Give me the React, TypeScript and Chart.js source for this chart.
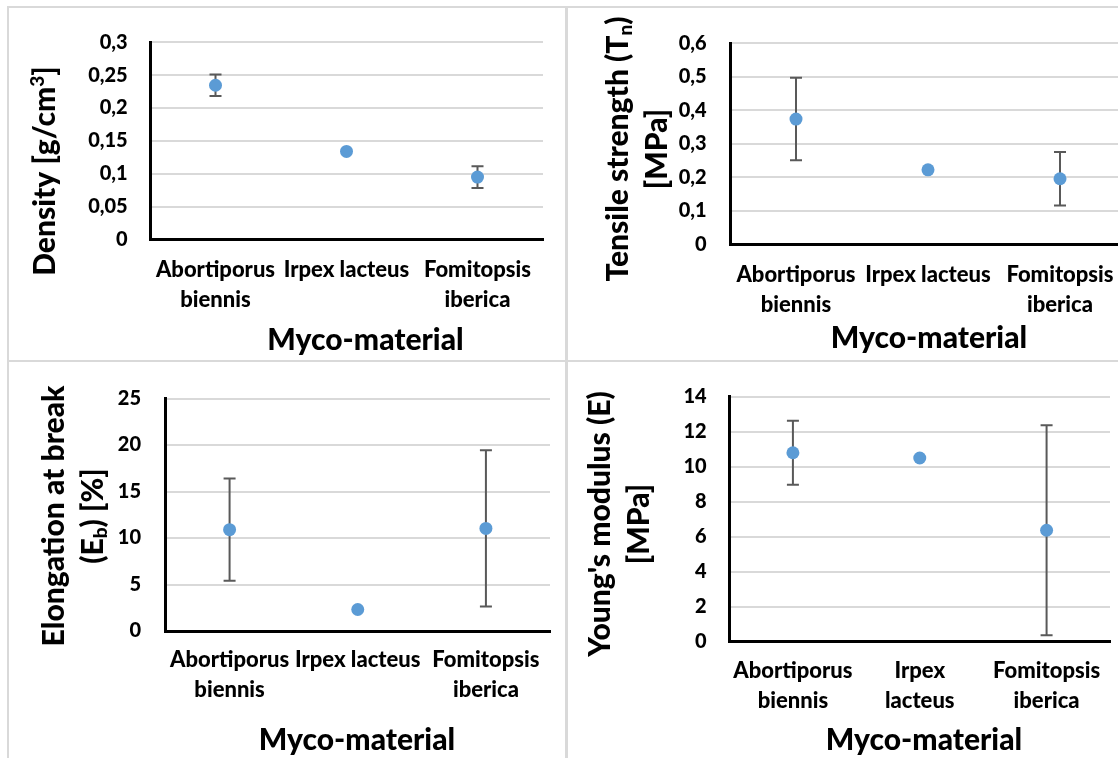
import React, { useEffect, useRef } from "react";
import { Chart, registerables } from "chart.js";

Chart.register(...registerables);

// Fungal species tested
const speciesLabels: (string | string[])[] = [["Abortiporus", "biennis"], "Irpex lacteus", ["Fomitopsis", "iberica"]];
const speciesLabelsWrapped: string[][] = [["Abortiporus", "biennis"], ["Irpex", "lacteus"], ["Fomitopsis", "iberica"]];

// Density [g/cm3]: mean and standard deviation
const densityMean = [0.2347, 0.134, 0.095];
const densitySd = [0.0163, 0, 0.0165];
const densityTicks = ["0", "0,05", "0,1", "0,15", "0,2", "0,25", "0,3"];

// Tensile strength [MPa]
const tensileMean = [0.374, 0.2226, 0.196];
const tensileSd = [0.123, 0, 0.08];
const tensileTicks = ["0", "0,1", "0,2", "0,3", "0,4", "0,5", "0,6"];

// Elongation at break [%]
const elongationMean = [10.9, 2.31, 11.03];
const elongationSd = [5.5, 0, 8.4];
const elongationTicks = ["0", "5", "10", "15", "20", "25"];

// Young's modulus [MPa]
const modulusMean = [10.8, 10.5, 6.37];
const modulusSd = [1.83, 0, 6.0];
const modulusTicks = ["0", "2", "4", "6", "8", "10", "12", "14"];

const FONT = "Lato";
const WEIGHT = "900";
const TEXT = "#000000";
const MARKER = "#5b9bd5";
const ERR = "#595959";
const GRID = "#d9d9d9";

type Seg = { t: string; s?: "sup" | "sub" };

type PanelSpec = {
  labels: (string | string[])[];
  mean: number[];
  sd: number[];
  ticks: string[];
  max: number;
  step: number;
  yTitle: Seg[][];
  canvas: { x: number; y: number; w: number; h: number };
  plot: { l: number; r: number; t: number; b: number };
  yTickRight: number;
  catPad: number;
  xTitle: { cx: number; base: number };
  yTitleLines: { baselines: number[]; cy: number };
  frame: { x: number; y: number; w: number; h: number };
};

const TICK_FS = 20;
const CAT_FS = 22;
const CAT_LH = 30;
const TITLE_FS = 30;

const panels: PanelSpec[] = [
  {
    labels: speciesLabels,
    mean: densityMean,
    sd: densitySd,
    ticks: densityTicks,
    max: 0.3,
    step: 0.05,
    yTitle: [[{ t: "Density [g/cm" }, { t: "3", s: "sup" }, { t: "]" }]],
    canvas: { x: 9, y: 8, w: 556, h: 352 },
    plot: { l: 150, r: 543, t: 39.5, b: 239.5 },
    yTickRight: 127.7,
    catPad: 15,
    xTitle: { cx: 365.5, base: 350 },
    yTitleLines: { baselines: [54.5], cy: 171 },
    frame: { x: 7, y: 6, w: 560, h: 356 },
  },
  {
    labels: speciesLabels,
    mean: tensileMean,
    sd: tensileSd,
    ticks: tensileTicks,
    max: 0.6,
    step: 0.1,
    yTitle: [[{ t: "Tensile strength (T" }, { t: "n", s: "sub" }, { t: ")" }], [{ t: "[MPa]" }]],
    canvas: { x: 568, y: 8, w: 600, h: 352 },
    plot: { l: 730, r: 1126, t: 23, b: 244.5 },
    yTickRight: 706.7,
    catPad: 15,
    xTitle: { cx: 929, base: 348 },
    yTitleLines: { baselines: [628, 667], cy: 149 },
    frame: { x: 566, y: 6, w: 600, h: 356 },
  },
  {
    labels: speciesLabels,
    mean: elongationMean,
    sd: elongationSd,
    ticks: elongationTicks,
    max: 25,
    step: 5,
    yTitle: [[{ t: "Elongation at break" }], [{ t: "(E" }, { t: "b", s: "sub" }, { t: ") [%]" }]],
    canvas: { x: 9, y: 362, w: 556, h: 396 },
    plot: { l: 165.5, r: 550, t: 385.7, b: 631 },
    yTickRight: 141,
    catPad: 13.5,
    xTitle: { cx: 357, base: 750 },
    yTitleLines: { baselines: [64, 103], cy: 516 },
    frame: { x: 7, y: 360, w: 560, h: 500 },
  },
  {
    labels: speciesLabelsWrapped,
    mean: modulusMean,
    sd: modulusSd,
    ticks: modulusTicks,
    max: 14,
    step: 2,
    yTitle: [[{ t: "Young's modulus (E)" }], [{ t: "[MPa]" }]],
    canvas: { x: 568, y: 362, w: 600, h: 396 },
    plot: { l: 729.5, r: 1110, t: 386, b: 641.7 },
    yTickRight: 706.7,
    catPad: 14.5,
    xTitle: { cx: 924, base: 750 },
    yTitleLines: { baselines: [610, 649], cy: 524 },
    frame: { x: 566, y: 360, w: 600, h: 500 },
  },
];

function segFont(seg: Seg, fs: number) {
  const size = seg.s ? Math.round(fs * 0.62) : fs;
  return `${WEIGHT} ${size}px ${FONT}`;
}

function drawRichLine(ctx: CanvasRenderingContext2D, segs: Seg[], fs: number) {
  let total = 0;
  const widths = segs.map((seg) => {
    ctx.font = segFont(seg, fs);
    const w = ctx.measureText(seg.t).width;
    total += w;
    return w;
  });
  let x = -total / 2;
  segs.forEach((seg, i) => {
    ctx.font = segFont(seg, fs);
    const dy = seg.s === "sup" ? -fs * 0.36 : seg.s === "sub" ? fs * 0.14 : 0;
    ctx.fillText(seg.t, x, dy);
    x += widths[i];
  });
}

function buildConfig(p: PanelSpec): any {
  const yWidth = p.plot.l - p.canvas.x;
  const xHeight = p.canvas.y + p.canvas.h - p.plot.b;
  const padTop = p.plot.t - p.canvas.y;
  const padRight = p.canvas.x + p.canvas.w - p.plot.r;

  const errorBars = {
    id: "errorBars",
    beforeDatasetsDraw(chart: any) {
      const { ctx } = chart;
      const yScale = chart.scales.y;
      const meta = chart.getDatasetMeta(0);
      ctx.save();
      ctx.strokeStyle = ERR;
      ctx.lineWidth = 2;
      p.mean.forEach((m, i) => {
        const sd = p.sd[i];
        if (!sd) return;
        const x = meta.data[i].x;
        const yHi = yScale.getPixelForValue(m + sd);
        const yLo = yScale.getPixelForValue(m - sd);
        const cap = 6;
        ctx.beginPath();
        ctx.moveTo(x, yHi);
        ctx.lineTo(x, yLo);
        ctx.moveTo(x - cap, yHi);
        ctx.lineTo(x + cap, yHi);
        ctx.moveTo(x - cap, yLo);
        ctx.lineTo(x + cap, yLo);
        ctx.stroke();
      });
      ctx.restore();
    },
  };

  const axisTitles = {
    id: "axisTitles",
    afterDraw(chart: any) {
      const { ctx } = chart;
      ctx.save();
      ctx.fillStyle = TEXT;
      ctx.textBaseline = "alphabetic";
      ctx.textAlign = "left";
      // vertical title, read bottom to top
      p.yTitle.forEach((line, i) => {
        ctx.save();
        ctx.translate(p.yTitleLines.baselines[i] - p.canvas.x, p.yTitleLines.cy - p.canvas.y);
        ctx.rotate(-Math.PI / 2);
        drawRichLine(ctx, line, TITLE_FS);
        ctx.restore();
      });
      // horizontal title
      ctx.font = `${WEIGHT} ${TITLE_FS}px ${FONT}`;
      ctx.textAlign = "center";
      ctx.fillText("Myco-material", p.xTitle.cx - p.canvas.x, p.xTitle.base - p.canvas.y);
      ctx.restore();
    },
  };

  return {
    type: "line",
    data: {
      labels: p.labels,
      datasets: [
        {
          data: p.mean,
          showLine: false,
          pointRadius: 6.5,
          pointHoverRadius: 6.5,
          pointBackgroundColor: MARKER,
          pointBorderColor: MARKER,
          pointBorderWidth: 0,
          clip: false,
        },
      ],
    },
    options: {
      animation: false,
      responsive: false,
      maintainAspectRatio: false,
      devicePixelRatio: 1,
      layout: { padding: { top: padTop, right: padRight, left: 0, bottom: 0 } },
      plugins: { legend: { display: false }, tooltip: { enabled: false }, title: { display: false } },
      events: [],
      scales: {
        x: {
          type: "category",
          offset: true,
          grid: { display: false, drawTicks: false },
          border: { display: true, color: "#000000", width: 3 },
          ticks: {
            color: TEXT,
            padding: p.catPad,
            maxRotation: 0,
            minRotation: 0,
            autoSkip: false,
            font: { family: FONT, weight: WEIGHT, size: CAT_FS, lineHeight: `${CAT_LH}px` },
          },
          afterFit(scale: any) {
            scale.height = xHeight;
          },
        },
        y: {
          min: 0,
          max: p.max,
          grid: { color: GRID, lineWidth: 2, drawTicks: false },
          border: { display: true, color: "#000000", width: 3 },
          ticks: {
            stepSize: p.step,
            color: TEXT,
            padding: p.plot.l - p.yTickRight,
            font: { family: FONT, weight: WEIGHT, size: TICK_FS },
            callback: (v: number) => p.ticks[Math.round(v / p.step)],
          },
          afterFit(scale: any) {
            scale.width = yWidth;
          },
        },
      },
    },
    plugins: [errorBars, axisTitles],
  };
}

function Panel({ spec }: { spec: PanelSpec }) {
  const ref = useRef<HTMLCanvasElement>(null);
  useEffect(() => {
    if (!ref.current) return;
    const chart = new Chart(ref.current, buildConfig(spec));
    return () => chart.destroy();
  }, [spec]);
  return (
    <>
      <canvas
        ref={ref}
        width={spec.canvas.w}
        height={spec.canvas.h}
        style={{
          position: "absolute",
          left: spec.canvas.x,
          top: spec.canvas.y,
          width: spec.canvas.w,
          height: spec.canvas.h,
        }}
      />
      <div
        style={{
          position: "absolute",
          left: spec.frame.x,
          top: spec.frame.y,
          width: spec.frame.w,
          height: spec.frame.h,
          border: `2px solid ${GRID}`,
          boxSizing: "border-box",
          pointerEvents: "none",
        }}
      />
    </>
  );
}

export default function App() {
  return (
    <div
      style={{
        position: "fixed",
        left: 0,
        top: 0,
        width: 1118,
        height: 758,
        overflow: "hidden",
        background: "#ffffff",
      }}
    >
      {panels.map((p, i) => (
        <Panel key={i} spec={p} />
      ))}
    </div>
  );
}
